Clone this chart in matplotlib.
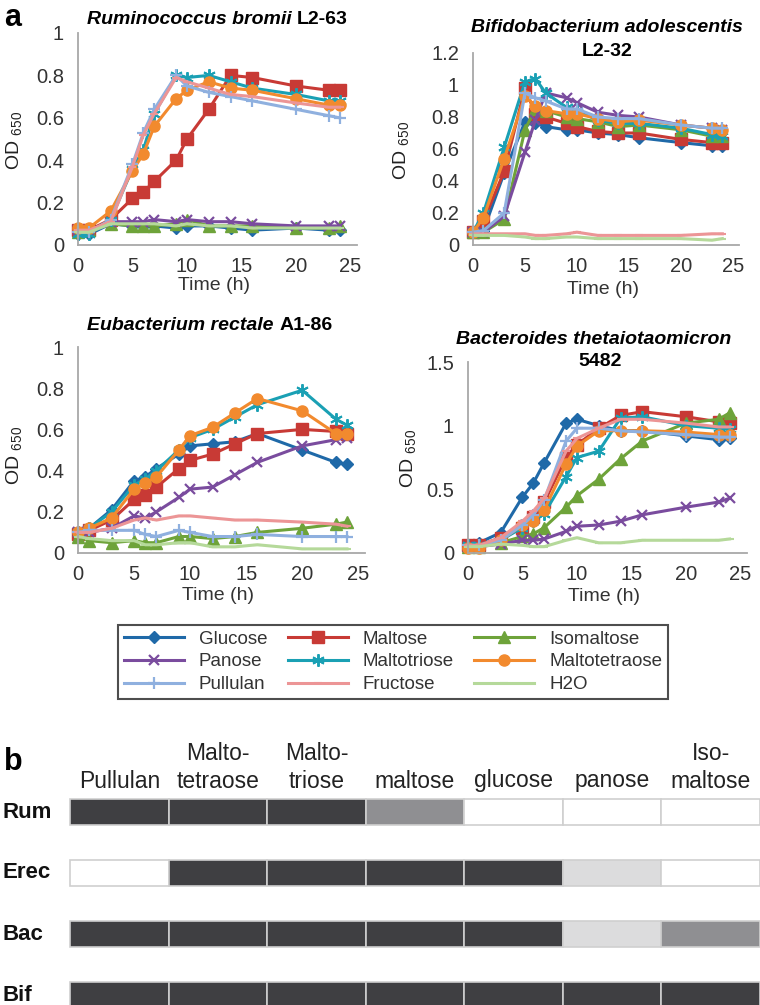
import matplotlib
matplotlib.use("Agg")
import matplotlib.pyplot as plt
from matplotlib.lines import Line2D

plt.rcParams['font.family'] = ['Liberation Sans', 'DejaVu Sans']
plt.rcParams['mathtext.fontset'] = 'custom'
plt.rcParams['mathtext.rm'] = 'Liberation Sans'

# ---------------- data ----------------
time_h = [0, 1, 3, 5, 6, 7, 9, 10, 12, 14, 16, 20, 23, 24]
substrates = ["Glucose", "Maltose", "Isomaltose", "Panose", "Maltotriose",
              "Maltotetraose", "Pullulan", "Fructose", "H2O"]

# Ruminococcus bromii L2-63
rum_glucose = [0.05, 0.05, 0.10, 0.09, 0.09, 0.09, 0.08, 0.09, 0.09, 0.08, 0.07, 0.08, 0.07, 0.07]
rum_maltose = [0.07, 0.07, 0.12, 0.22, 0.25, 0.30, 0.40, 0.50, 0.64, 0.80, 0.79, 0.75, 0.73, 0.73]
rum_isomaltose = [0.06, 0.07, 0.10, 0.09, 0.09, 0.09, 0.10, 0.12, 0.09, 0.09, 0.09, 0.08, 0.08, 0.09]
rum_panose = [0.07, 0.07, 0.11, 0.11, 0.11, 0.12, 0.11, 0.12, 0.11, 0.11, 0.10, 0.09, 0.09, 0.09]
rum_maltotriose = [0.05, 0.05, 0.12, 0.36, 0.45, 0.62, 0.80, 0.79, 0.80, 0.77, 0.74, 0.71, 0.68, 0.68]
rum_maltotetraose = [0.08, 0.08, 0.16, 0.35, 0.43, 0.56, 0.69, 0.73, 0.77, 0.74, 0.73, 0.69, 0.66, 0.66]
rum_pullulan = [0.06, 0.06, 0.12, 0.38, 0.53, 0.64, 0.80, 0.75, 0.72, 0.70, 0.68, 0.64, 0.61, 0.60]
rum_fructose = [0.07, 0.07, 0.11, 0.37, 0.52, 0.62, 0.79, 0.77, 0.74, 0.71, 0.70, 0.67, 0.65, 0.65]
rum_h2o = [0.06, 0.06, 0.10, 0.10, 0.10, 0.10, 0.09, 0.10, 0.09, 0.09, 0.08, 0.08, 0.08, 0.08]

# Bifidobacterium adolescentis L2-32
bif_glucose = [0.08, 0.09, 0.45, 0.77, 0.76, 0.74, 0.72, 0.72, 0.70, 0.69, 0.67, 0.64, 0.62, 0.62]
bif_maltose = [0.08, 0.15, 0.46, 0.98, 0.82, 0.80, 0.76, 0.74, 0.71, 0.70, 0.70, 0.66, 0.64, 0.64]
bif_isomaltose = [0.08, 0.08, 0.16, 0.72, 0.85, 0.84, 0.80, 0.79, 0.77, 0.74, 0.75, 0.72, 0.68, 0.68]
bif_panose = [0.08, 0.08, 0.18, 0.58, 0.78, 0.95, 0.92, 0.89, 0.83, 0.81, 0.80, 0.75, 0.73, 0.72]
bif_maltotriose = [0.08, 0.20, 0.61, 1.02, 1.04, 0.95, 0.86, 0.84, 0.78, 0.76, 0.76, 0.73, 0.69, 0.68]
bif_maltotetraose = [0.08, 0.17, 0.54, 0.93, 0.87, 0.84, 0.82, 0.82, 0.79, 0.77, 0.78, 0.75, 0.73, 0.72]
bif_pullulan = [0.08, 0.09, 0.20, 0.95, 0.92, 0.90, 0.85, 0.85, 0.80, 0.79, 0.79, 0.75, 0.73, 0.73]
bif_fructose = [0.07, 0.07, 0.07, 0.07, 0.06, 0.06, 0.07, 0.08, 0.06, 0.06, 0.06, 0.06, 0.07, 0.07]
bif_h2o = [0.06, 0.06, 0.06, 0.05, 0.04, 0.04, 0.05, 0.05, 0.04, 0.04, 0.04, 0.04, 0.03, 0.04]

# Eubacterium rectale A1-86
erec_glucose = [0.10, 0.12, 0.21, 0.35, 0.37, 0.41, 0.48, 0.52, 0.53, 0.54, 0.58, 0.50, 0.44, 0.43]
erec_maltose = [0.09, 0.11, 0.16, 0.26, 0.28, 0.32, 0.41, 0.45, 0.48, 0.53, 0.58, 0.60, 0.59, 0.58]
erec_isomaltose = [0.08, 0.06, 0.05, 0.06, 0.05, 0.05, 0.08, 0.08, 0.07, 0.08, 0.10, 0.12, 0.14, 0.15]
erec_panose = [0.10, 0.10, 0.12, 0.18, 0.17, 0.20, 0.27, 0.31, 0.32, 0.38, 0.44, 0.52, 0.55, 0.56]
erec_maltotriose = [0.10, 0.12, 0.20, 0.33, 0.36, 0.40, 0.50, 0.56, 0.60, 0.66, 0.72, 0.79, 0.65, 0.62]
erec_maltotetraose = [0.10, 0.12, 0.17, 0.31, 0.34, 0.37, 0.50, 0.57, 0.61, 0.68, 0.75, 0.69, 0.58, 0.58]
erec_pullulan = [0.10, 0.11, 0.11, 0.11, 0.09, 0.08, 0.11, 0.10, 0.08, 0.08, 0.09, 0.08, 0.08, 0.08]
erec_fructose = [0.10, 0.10, 0.12, 0.16, 0.17, 0.16, 0.18, 0.18, 0.17, 0.16, 0.16, 0.15, 0.14, 0.13]
erec_h2o = [0.08, 0.07, 0.06, 0.06, 0.04, 0.04, 0.05, 0.05, 0.03, 0.03, 0.04, 0.02, 0.02, 0.02]

# Bacteroides thetaiotaomicron 5482
bac_glucose = [0.06, 0.08, 0.16, 0.44, 0.55, 0.71, 1.02, 1.05, 1.00, 0.96, 0.96, 0.92, 0.89, 0.90]
bac_maltose = [0.06, 0.06, 0.12, 0.20, 0.28, 0.40, 0.75, 0.85, 0.98, 1.08, 1.11, 1.07, 1.03, 1.02]
bac_isomaltose = [0.05, 0.05, 0.08, 0.13, 0.15, 0.20, 0.36, 0.45, 0.58, 0.74, 0.88, 1.02, 1.05, 1.10]
bac_panose = [0.05, 0.05, 0.07, 0.10, 0.10, 0.11, 0.17, 0.21, 0.22, 0.25, 0.30, 0.36, 0.40, 0.43]
bac_maltotriose = [0.06, 0.06, 0.10, 0.20, 0.25, 0.31, 0.60, 0.75, 0.80, 1.06, 1.07, 1.00, 0.98, 0.97]
bac_maltotetraose = [0.04, 0.04, 0.10, 0.22, 0.25, 0.34, 0.70, 0.84, 0.96, 0.96, 0.96, 0.95, 0.93, 0.93]
bac_pullulan = [0.06, 0.06, 0.10, 0.22, 0.30, 0.42, 0.88, 0.98, 0.98, 0.96, 0.95, 0.93, 0.91, 0.91]
bac_fructose = [0.06, 0.06, 0.12, 0.25, 0.33, 0.43, 0.80, 0.90, 0.98, 1.05, 1.05, 1.02, 0.99, 0.99]
bac_h2o = [0.05, 0.05, 0.07, 0.06, 0.05, 0.05, 0.10, 0.12, 0.08, 0.08, 0.10, 0.10, 0.10, 0.11]

# Panel b: utilisation summary (0 none, 1 weak, 2 moderate, 3 strong)
b_col_top = ["", "Malto-", "Malto-", "", "", "", "Iso-"]
b_col_bottom = ["Pullulan", "tetraose", "triose", "maltose", "glucose", "panose", "maltose"]
b_rows = ["Rum", "Erec", "Bac", "Bif"]
b_rum = [3, 3, 3, 2, 0, 0, 0]
b_erec = [0, 3, 3, 3, 3, 1, 0]
b_bac = [3, 3, 3, 3, 3, 1, 2]
b_bif = [3, 3, 3, 3, 3, 3, 3]

# ---------------- styles ----------------
styles = {
    "Glucose":       dict(color="#1f69a8", marker="D", ms=6.5, mew=1.0),
    "Maltose":       dict(color="#c83a35", marker="s", ms=8, mew=1.0),
    "Isomaltose":    dict(color="#6ea33a", marker="^", ms=8, mew=1.0),
    "Panose":        dict(color="#7a4c9e", marker="x", ms=7, mew=1.6),
    "Maltotriose":   dict(color="#1aa0b4", marker=(6, 2, 0), ms=9, mew=1.4),
    "Maltotetraose": dict(color="#f28a2e", marker="o", ms=8, mew=1.0),
    "Pullulan":      dict(color="#8fb0df", marker="+", ms=9, mew=1.6),
    "Fructose":      dict(color="#ec9596", marker="_", ms=6, mew=1.5),
    "H2O":           dict(color="#b5d99a", marker="_", ms=6, mew=1.5),
}

W, H = 760, 1005
fig = plt.figure(figsize=(W / 100, H / 100), dpi=100)


def add_ax_px(x0, ytop, x1, ybot):
    return fig.add_axes([x0 / W, 1 - ybot / H, (x1 - x0) / W, (ybot - ytop) / H])


def fx(x):
    return x / W


def fy(y):
    return 1 - y / H


renderer = fig.canvas.get_renderer()


def mixed_text(xc, y, parts, size=14):
    texts = []
    for s, st in parts:
        t = fig.text(0, fy(y), s, fontsize=size, fontweight="bold",
                     fontstyle=st, ha="left", va="center")
        texts.append(t)
    widths = [t.get_window_extent(renderer).width for t in texts]
    total = sum(widths)
    x = xc - total / 2
    for t, w in zip(texts, widths):
        t.set_x(fx(x))
        x += w


def setup_panel(ax, ymax, yticks, ylabels):
    ax.set_xlim(0, 25.6)
    ax.set_ylim(0, ymax)
    ax.set_xticks([0, 5, 10, 15, 20, 25])
    ax.set_yticks(yticks)
    ax.set_yticklabels(ylabels)
    for s in ["top", "right"]:
        ax.spines[s].set_visible(False)
    for s in ["left", "bottom"]:
        ax.spines[s].set_color("#a8a8a8")
        ax.spines[s].set_linewidth(1.3)
    ax.tick_params(length=0, labelsize=14.5, colors="#333333")
    ax.tick_params(axis="x", pad=9)
    ax.tick_params(axis="y", pad=10)
    ax.patch.set_alpha(0)


def draw_series(ax, series):
    for name, vals in zip(substrates, series):
        st = styles[name]
        ax.plot(time_h, vals, color=st["color"], lw=2.2, marker=st["marker"],
                ms=st["ms"], mew=st["mew"], mfc=st["color"], mec=st["color"],
                solid_joinstyle="round", clip_on=False)


panels = [
    dict(box=(78, 33, 357, 245), ymax=1.0, yt=[0, 0.2, 0.4, 0.6, 0.8, 1.0],
         yl=["0", "0.2", "0.4", "0.6", "0.8", "1"],
         data=[rum_glucose, rum_maltose, rum_isomaltose, rum_panose, rum_maltotriose,
               rum_maltotetraose, rum_pullulan, rum_fructose, rum_h2o],
         od=(15, 140), timey=286),
    dict(box=(473, 53, 739, 245), ymax=1.2, yt=[0, 0.2, 0.4, 0.6, 0.8, 1.0, 1.2],
         yl=["0", "0.2", "0.4", "0.6", "0.8", "1", "1.2"],
         data=[bif_glucose, bif_maltose, bif_isomaltose, bif_panose, bif_maltotriose,
               bif_maltotetraose, bif_pullulan, bif_fructose, bif_h2o],
         od=(402, 150), timey=290),
    dict(box=(78, 347, 365, 553), ymax=1.0, yt=[0, 0.2, 0.4, 0.6, 0.8, 1.0],
         yl=["0", "0.2", "0.4", "0.6", "0.8", "1"],
         data=[erec_glucose, erec_maltose, erec_isomaltose, erec_panose, erec_maltotriose,
               erec_maltotetraose, erec_pullulan, erec_fructose, erec_h2o],
         od=(15, 455), timey=595),
    dict(box=(468, 362, 747, 553), ymax=1.5, yt=[0, 0.5, 1.0, 1.5],
         yl=["0", "0.5", "1", "1.5"],
         data=[bac_glucose, bac_maltose, bac_isomaltose, bac_panose, bac_maltotriose,
               bac_maltotetraose, bac_pullulan, bac_fructose, bac_h2o],
         od=(409, 458), timey=596),
]

for p in panels:
    ax = add_ax_px(*p["box"])
    setup_panel(ax, p["ymax"], p["yt"], p["yl"])
    draw_series(ax, p["data"])
    x0, _, x1, _ = p["box"]
    xc = x0 + (x1 - x0) * 12.5 / 25.6
    fig.text(fx(xc), fy(p["timey"]), "Time (h)", fontsize=14, ha="center",
             va="center", color="#333333")
    fig.text(fx(p["od"][0]), fy(p["od"][1]), r"OD $_{650}$", fontsize=14,
             rotation=90, ha="center", va="center", color="#222222")

# titles
mixed_text(217, 20, [("Ruminococcus bromii ", "italic"), ("L2-63", "normal")])
mixed_text(607, 27, [("Bifidobacterium adolescentis", "italic")])
mixed_text(607, 52, [("L2-32", "normal")])
mixed_text(210, 325, [("Eubacterium rectale ", "italic"), ("A1-86", "normal")])
mixed_text(594, 340, [("Bacteroides thetaiotaomicron", "italic")])
mixed_text(600, 362, [("5482", "normal")])

fig.text(fx(4), fy(18), "a", fontsize=22, fontweight="bold", ha="left", va="center")
fig.text(fx(4), fy(762), "b", fontsize=22, fontweight="bold", ha="left", va="center")

# legend
legend_order = ["Glucose", "Panose", "Pullulan", "Maltose", "Maltotriose",
                "Fructose", "Isomaltose", "Maltotetraose", "H2O"]
handles = []
for name in legend_order:
    st = styles[name]
    handles.append(Line2D([], [], color=st["color"], lw=2.2, marker=st["marker"],
                          ms=st["ms"], mew=st["mew"], mfc=st["color"], mec=st["color"]))
leg = fig.legend(handles, legend_order, ncol=3, loc="upper left",
                 bbox_to_anchor=(fx(118), fy(704), fx(668) - fx(118), fy(625) - fy(704)),
                 mode="expand", fontsize=13.5, frameon=True, fancybox=False,
                 handlelength=3.2, handletextpad=0.8, labelspacing=0.3,
                 borderpad=0.3, columnspacing=1.0, borderaxespad=0.0)
leg.get_frame().set_edgecolor("#222222")
leg.get_frame().set_linewidth(1.5)
for t in leg.get_texts():
    t.set_color("#333333")

# panel b
row_pitch = 61.0
row0 = 812
axb = add_ax_px(70, row0 - 0.6 * row_pitch, 760, 1005)
axb.set_xlim(0, 7)
axb.set_ylim((1005 - row0) / row_pitch, -0.6)
axb.axis("off")
shade = {0: "#ffffff", 1: "#dcdcdd", 2: "#8f8f92", 3: "#3f3f42"}
for ri, row in enumerate([b_rum, b_erec, b_bac, b_bif]):
    axb.barh([ri] * len(row), [1] * len(row), left=list(range(len(row))),
             height=0.42, color=[shade[v] for v in row], edgecolor="#cfcfcf",
             linewidth=1.2, align="center", clip_on=False)

col_px = (760 - 70) / 7
for ri, name in enumerate(b_rows):
    axb.text(-67 / col_px, ri, name, fontsize=16, fontweight="bold", ha="left",
             va="center", color="#111111")

for ci, (top, bot) in enumerate(zip(b_col_top, b_col_bottom)):
    axb.text(ci + 0.5, -(row0 - 781) / row_pitch, bot, fontsize=16.5,
             ha="center", va="center", color="#222222")
    if top:
        axb.text(ci + 0.5, -(row0 - 754) / row_pitch, top, fontsize=16.5,
                 ha="center", va="center", color="#222222")

fig.savefig("out.png", dpi=100)
